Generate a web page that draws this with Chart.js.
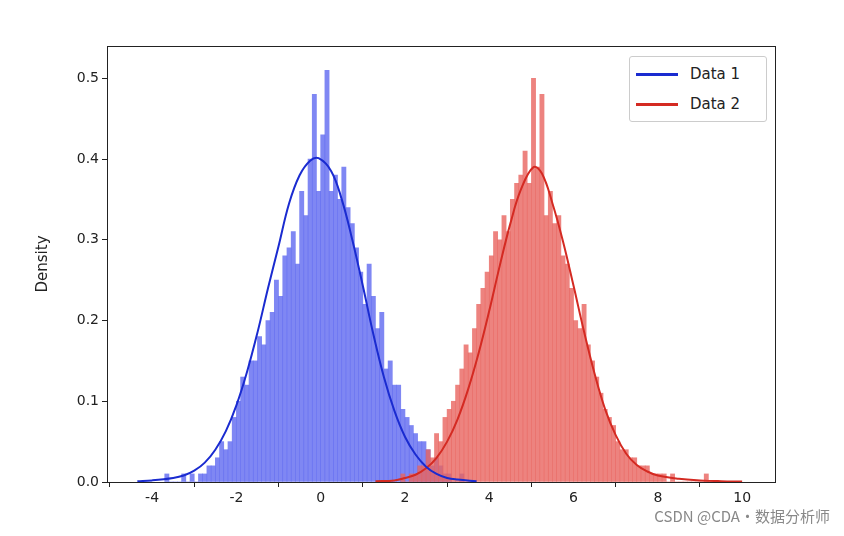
<!DOCTYPE html>
<html>
<head>
<meta charset="utf-8">
<script src="https://cdn.jsdelivr.net/npm/chart.js@4"></script>
<style>
  body { margin: 0; background: #fff; }
  #wrap { position: relative; width: 844px; height: 536px; }
  #legend { position: absolute; left: 629px; top: 56px; width: 136px; height: 64px; border: 1px solid #ccc; border-radius: 3px; background: #fff;
            font-family: "DejaVu Sans", sans-serif; font-size: 15px; color: #222; }
  .item { display: flex; align-items: center; height: 30px; padding-left: 6px; }
  .sw { width: 42px; height: 3px; margin-right: 12px; }
  #mark { position: absolute; right: 14px; bottom: 10px; font-family: "Noto Sans CJK SC", sans-serif; font-size: 15px; color: #888; }
</style>
</head>
<body>
<div id="wrap">
  <canvas id="c" width="844" height="536"></canvas>
  <div id="legend">
    <div class="item" style="margin-top:2px"><span class="sw" style="background:#1a2bd0"></span>Data 1</div>
    <div class="item"><span class="sw" style="background:#d42a22"></span>Data 2</div>
  </div>
  <div id="mark">CSDN @CDA·数据分析师</div>
</div>
<script>
// histogram bin centres (width 0.1) and densities
const bins1 = [-3.65,-3.55,-3.45,-3.35,-3.25,-3.15,-3.05,-2.95,-2.85,-2.75,-2.65,-2.55,-2.45,-2.35,-2.25,-2.15,-2.05,-1.95,-1.85,-1.75,-1.65,-1.55,-1.45,-1.35,-1.25,-1.15,-1.05,-0.95,-0.85,-0.75,-0.65,-0.55,-0.45,-0.35,-0.25,-0.15,-0.05,0.05,0.15,0.25,0.35,0.45,0.55,0.65,0.75,0.85,0.95,1.05,1.15,1.25,1.35,1.45,1.55,1.65,1.75,1.85,1.95,2.05,2.15,2.25,2.35,2.45,2.55,2.65,2.75,2.85,2.95,3.05,3.15,3.25,3.35];
const dens1 = [0.01,0.0,0.0,0.0,0.01,0.0,0.01,0.0,0.01,0.01,0.02,0.02,0.03,0.05,0.04,0.05,0.08,0.10,0.13,0.12,0.15,0.15,0.18,0.17,0.20,0.21,0.25,0.23,0.28,0.29,0.31,0.27,0.36,0.33,0.40,0.48,0.36,0.43,0.51,0.36,0.38,0.35,0.39,0.34,0.32,0.29,0.26,0.22,0.27,0.23,0.19,0.21,0.14,0.15,0.12,0.12,0.09,0.08,0.07,0.06,0.05,0.05,0.04,0.02,0.03,0.02,0.01,0.01,0.0,0.0,0.01];
const bins2 = [1.95,2.05,2.15,2.25,2.35,2.45,2.55,2.65,2.75,2.85,2.95,3.05,3.15,3.25,3.35,3.45,3.55,3.65,3.75,3.85,3.95,4.05,4.15,4.25,4.35,4.45,4.55,4.65,4.75,4.85,4.95,5.05,5.15,5.25,5.35,5.45,5.55,5.65,5.75,5.85,5.95,6.05,6.15,6.25,6.35,6.45,6.55,6.65,6.75,6.85,6.95,7.05,7.15,7.25,7.35,7.45,7.55,7.65,7.75,7.85,7.95,8.05,8.15,8.25,8.35,8.45,8.55,8.65,8.75,8.85,8.95,9.05,9.15,9.25,9.35,9.45,9.55];
const dens2 = [0.01,0.0,0.01,0.01,0.02,0.02,0.04,0.03,0.06,0.05,0.08,0.09,0.10,0.12,0.14,0.17,0.16,0.19,0.22,0.24,0.26,0.28,0.31,0.30,0.33,0.31,0.35,0.37,0.38,0.41,0.37,0.50,0.39,0.48,0.33,0.36,0.32,0.33,0.28,0.27,0.24,0.20,0.19,0.22,0.17,0.15,0.13,0.11,0.09,0.08,0.07,0.05,0.04,0.04,0.03,0.03,0.02,0.02,0.02,0.01,0.01,0.01,0.01,0.0,0.01,0.0,0.0,0.0,0.0,0.0,0.0,0.0,0.01,0.0,0.0,0.0,0.0];
// KDE curves
const kdeX1 = [-4.35,-4.0,-3.5,-3.25,-3.0,-2.75,-2.5,-2.25,-2.0,-1.75,-1.5,-1.25,-1.0,-0.75,-0.5,-0.25,-0.05,0.25,0.5,0.75,1.0,1.25,1.5,1.75,2.0,2.25,2.5,2.75,3.0,3.25,3.7];
const kdeY1 = [0.001,0.002,0.005,0.008,0.014,0.024,0.040,0.063,0.095,0.136,0.185,0.240,0.292,0.345,0.380,0.398,0.401,0.385,0.350,0.300,0.243,0.183,0.130,0.088,0.056,0.034,0.019,0.010,0.005,0.003,0.001];
const kdeX2 = [1.3,1.75,2.0,2.25,2.5,2.75,3.0,3.25,3.5,3.75,4.0,4.25,4.5,4.75,5.05,5.25,5.5,5.75,6.0,6.25,6.5,6.75,7.0,7.25,7.5,7.75,8.0,8.5,9.0,9.5,10.0];
const kdeY2 = [0.001,0.002,0.005,0.009,0.017,0.030,0.050,0.078,0.115,0.160,0.212,0.268,0.320,0.362,0.390,0.382,0.345,0.298,0.243,0.186,0.134,0.090,0.058,0.035,0.021,0.013,0.008,0.004,0.002,0.001,0.0005];

const pts = (xs, ys) => xs.map((x, i) => ({ x: x, y: ys[i] }));

const frame = {
  id: 'frame',
  afterDraw(chart) {
    const a = chart.chartArea, ctx = chart.ctx;
    ctx.save();
    ctx.strokeStyle = '#222';
    ctx.lineWidth = 1;
    ctx.strokeRect(a.left + 0.5, a.top + 0.5, a.right - a.left, a.bottom - a.top);
    ctx.restore();
  }
};

new Chart(document.getElementById('c'), {
  data: {
    datasets: [
      { type: 'line', data: pts(kdeX1, kdeY1), borderColor: '#1a2bd0', borderWidth: 2, pointRadius: 0, tension: 0.4, order: 0 },
      { type: 'line', data: pts(kdeX2, kdeY2), borderColor: '#d42a22', borderWidth: 2, pointRadius: 0, tension: 0.4, order: 0 },
      { type: 'bar', data: pts(bins1, dens1), backgroundColor: 'rgba(95,105,240,0.8)', barPercentage: 1, categoryPercentage: 1, grouped: false, order: 2 },
      { type: 'bar', data: pts(bins2, dens2), backgroundColor: 'rgba(232,100,95,0.8)', barPercentage: 1, categoryPercentage: 1, grouped: false, order: 1 }
    ]
  },
  options: {
    responsive: false,
    animation: false,
    layout: { padding: { left: 30, right: 69, top: 46, bottom: 24 } },
    plugins: { legend: { display: false }, tooltip: { enabled: false } },
    scales: {
      x: {
        type: 'linear', min: -5.07, max: 10.78, offset: false,
        afterBuildTicks: s => { s.ticks = [-4, -2, 0, 2, 4, 6, 8, 10].map(v => ({ value: v })); },
        afterFit: s => { s.height = 30; },
        grid: { drawOnChartArea: false, tickLength: 5, color: '#222' },
        border: { color: '#222' },
        ticks: { color: '#222', font: { family: 'DejaVu Sans', size: 14 }, maxRotation: 0 }
      },
      y: {
        min: 0, max: 0.54,
        afterBuildTicks: s => { s.ticks = [0, 0.1, 0.2, 0.3, 0.4, 0.5].map(v => ({ value: v })); },
        afterFit: s => { s.width = 77; },
        grid: { drawOnChartArea: false, tickLength: 5, color: '#222' },
        border: { color: '#222' },
        title: { display: true, text: 'Density', color: '#222', font: { family: 'DejaVu Sans', size: 15 } },
        ticks: { color: '#222', font: { family: 'DejaVu Sans', size: 14 }, callback: v => v.toFixed(1) }
      }
    }
  },
  plugins: [frame]
});
</script>
</body>
</html>
